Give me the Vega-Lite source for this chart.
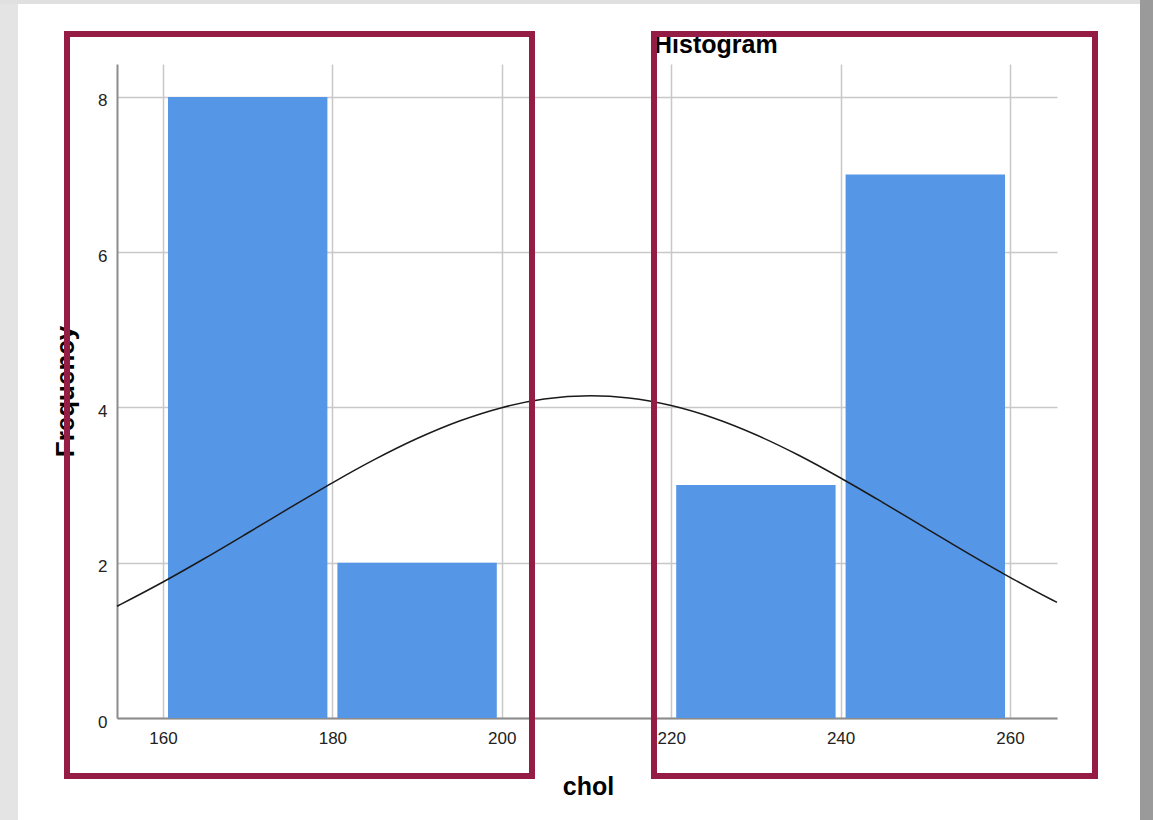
{
  "$schema": "https://vega.github.io/schema/vega-lite/v6.json",
  "width": 940,
  "height": 654,
  "autosize": {"type": "none"},
  "padding": {"left": 117, "top": 64, "right": 96, "bottom": 102},
  "background": "white",
  "config": {"view": {"stroke": null}, "font": "Liberation Sans"},
  "datasets": {
    "frame": [
      {"part": "left margin", "x1": 140.756, "x2": 142.88, "y1": 9.25, "y2": -1.314},
      {"part": "top margin", "x1": 140.756, "x2": 276.884, "y1": 9.25, "y2": 9.198},
      {"part": "right edge", "x1": 275.349, "x2": 276.884, "y1": 9.25, "y2": -1.314}
    ],
    "bins": [
      {"bin_start": 160, "bin_end": 180, "count": 8},
      {"bin_start": 180, "bin_end": 200, "count": 2},
      {"bin_start": 200, "bin_end": 220, "count": 0},
      {"bin_start": 220, "bin_end": 240, "count": 3},
      {"bin_start": 240, "bin_end": 260, "count": 7}
    ],
    "curve": [
      {"chol": 154.57, "density": 1.44},
      {"chol": 155, "density": 1.464},
      {"chol": 160, "density": 1.752},
      {"chol": 165, "density": 2.061},
      {"chol": 170, "density": 2.383},
      {"chol": 175, "density": 2.71},
      {"chol": 180, "density": 3.03},
      {"chol": 185, "density": 3.331},
      {"chol": 190, "density": 3.6},
      {"chol": 195, "density": 3.826},
      {"chol": 200, "density": 3.998},
      {"chol": 205, "density": 4.108},
      {"chol": 210.5, "density": 4.15},
      {"chol": 215, "density": 4.122},
      {"chol": 220, "density": 4.025},
      {"chol": 225, "density": 3.865},
      {"chol": 230, "density": 3.649},
      {"chol": 235, "density": 3.388},
      {"chol": 240, "density": 3.092},
      {"chol": 245, "density": 2.775},
      {"chol": 250, "density": 2.449},
      {"chol": 255, "density": 2.124},
      {"chol": 260, "density": 1.812},
      {"chol": 265, "density": 1.52},
      {"chol": 265.55, "density": 1.49}
    ],
    "heading": [
      {"label": "Histogram", "x": 217.97, "y": 8.567}
    ],
    "boxes": [
      {"box": "left", "x1": 148.666, "x2": 203.565, "y1": 8.812, "y2": -0.747},
      {"box": "right", "x1": 217.969, "x2": 270.035, "y1": 8.812, "y2": -0.747}
    ]
  },
  "layer": [
    {
      "data": {"name": "frame"},
      "mark": {"type": "rect", "clip": false},
      "encoding": {
        "x": {"field": "x1", "type": "quantitative",
          "scale": {"domain": [154.569, 265.549], "nice": false, "zero": false},
          "axis": {"title": "chol", "values": [160, 180, 200, 220, 240, 260], "format": "d", "grid": true, "gridColor": "#c8c8c8", "gridWidth": 1.5,
            "domainColor": "#8c8c8c", "domainWidth": 2, "ticks": false, "labelFontSize": 17, "labelColor": "#222222", "labelPadding": 12,
            "labelFlush": false, "titleFontSize": 25, "titleFontWeight": "bold", "titleColor": "#000000", "titleX": 471, "titleY": 76,
            "titleBaseline": "alphabetic", "titleAlign": "center"}},
        "x2": {"field": "x2"},
        "y": {"field": "y1", "type": "quantitative",
          "scale": {"domain": [0, 8.425], "nice": false, "zero": false},
          "axis": {"title": "Frequency", "values": [0, 2, 4, 6, 8], "format": "d", "grid": true, "gridColor": "#c8c8c8", "gridWidth": 1.5,
            "domainColor": "#8c8c8c", "domainWidth": 2, "ticks": false, "labelFontSize": 17, "labelColor": "#222222", "labelPadding": 10,
            "labelOffset": 4, "titleFontSize": 26, "titleFontWeight": "bold", "titleColor": "#000000", "titleX": -44, "titleY": 327,
            "titleAngle": -90, "titleBaseline": "alphabetic", "titleAlign": "center"}},
        "y2": {"field": "y2"},
        "color": {"field": "part", "type": "nominal", "legend": null,
          "scale": {"domain": ["left margin", "top margin", "right edge"], "range": ["#e4e4e4", "#e0e0e0", "#9a9a9a"]}}
      }
    },
    {
      "data": {"name": "bins"},
      "mark": {"type": "rect", "color": "#5596E6", "xOffset": 5, "x2Offset": -5},
      "encoding": {
        "x": {"field": "bin_start", "type": "quantitative", "axis": {"title": "chol"}},
        "x2": {"field": "bin_end"},
        "y": {"field": "count", "type": "quantitative", "axis": {"title": "Frequency"}},
        "y2": {"datum": 0}
      }
    },
    {
      "data": {"name": "curve"},
      "mark": {"type": "line", "color": "#1a1a1a", "strokeWidth": 1.5, "interpolate": "monotone"},
      "encoding": {
        "x": {"field": "chol", "type": "quantitative", "axis": {"title": "chol"}},
        "y": {"field": "density", "type": "quantitative", "axis": {"title": "Frequency"}}
      }
    },
    {
      "data": {"name": "heading"},
      "mark": {"type": "text", "align": "left", "baseline": "alphabetic", "fontSize": 25, "fontWeight": "bold", "color": "#000000", "clip": false},
      "encoding": {
        "x": {"field": "x", "type": "quantitative", "axis": {"title": "chol"}},
        "y": {"field": "y", "type": "quantitative", "axis": {"title": "Frequency"}},
        "text": {"field": "label", "type": "nominal"}
      }
    },
    {
      "data": {"name": "boxes"},
      "mark": {"type": "rect", "filled": false, "stroke": "#951C45", "strokeWidth": 6, "clip": false},
      "encoding": {
        "x": {"field": "x1", "type": "quantitative", "axis": {"title": "chol"}},
        "x2": {"field": "x2"},
        "y": {"field": "y1", "type": "quantitative", "axis": {"title": "Frequency"}},
        "y2": {"field": "y2"}
      }
    }
  ]
}
